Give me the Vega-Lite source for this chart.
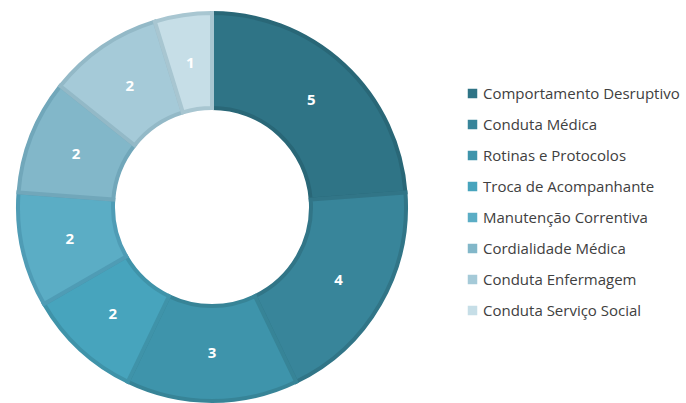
{
  "$schema": "https://vega.github.io/schema/vega-lite/v6.json",
  "width": 424,
  "height": 414,
  "padding": 0,
  "autosize": {"type": "pad"},
  "background": "white",
  "config": {"view": {"stroke": null}, "font": "Open Sans"},
  "data": {"values": [
    {"cat": "Comportamento Desruptivo", "v": 5, "o": 1},
    {"cat": "Conduta Médica", "v": 4, "o": 2},
    {"cat": "Rotinas e Protocolos", "v": 3, "o": 3},
    {"cat": "Troca de Acompanhante", "v": 2, "o": 4},
    {"cat": "Manutenção Correntiva", "v": 2, "o": 5},
    {"cat": "Cordialidade Médica", "v": 2, "o": 6},
    {"cat": "Conduta Enfermagem", "v": 2, "o": 7},
    {"cat": "Conduta Serviço Social", "v": 1, "o": 8}
  ]},
  "encoding": {
    "theta": {"field": "v", "type": "quantitative", "stack": true},
    "order": {"field": "o", "type": "quantitative"}
  },
  "layer": [
    {
      "mark": {"type": "arc", "innerRadius": 99, "outerRadius": 194, "strokeWidth": 4},
      "encoding": {
        "color": {
          "field": "cat", "type": "nominal",
          "sort": ["Comportamento Desruptivo","Conduta Médica","Rotinas e Protocolos","Troca de Acompanhante","Manutenção Correntiva","Cordialidade Médica","Conduta Enfermagem","Conduta Serviço Social"],
          "scale": {"range": ["#2f7486","#38859a","#3e94ab","#47a4bd","#5badc5","#82b7c9","#a5cad8","#c6dee7"]},
          "legend": {
            "title": null, "orient": "none", "legendX": 465, "legendY": 86,
            "symbolType": "square", "symbolSize": 90, "symbolStrokeWidth": 0,
            "labelFontSize": 15, "labelColor": "#404040", "labelFont": "Open Sans",
            "rowPadding": 15, "labelOffset": 3, "labelLimit": 300
          }
        },
        "stroke": {
          "field": "cat", "type": "nominal",
          "sort": ["Comportamento Desruptivo","Conduta Médica","Rotinas e Protocolos","Troca de Acompanhante","Manutenção Correntiva","Cordialidade Médica","Conduta Enfermagem","Conduta Serviço Social"],
          "scale": {"range": ["#296777","#317587","#378497","#3f93a9","#4f9cb5","#71a7ba","#93b9c7","#a8c6d1"]},
          "legend": null
        }
      }
    },
    {
      "mark": {"type": "text", "radius": 146, "color": "white", "fontSize": 15, "fontWeight": "bold", "font": "Open Sans"},
      "encoding": {"text": {"field": "v", "type": "quantitative"}}
    }
  ]
}
